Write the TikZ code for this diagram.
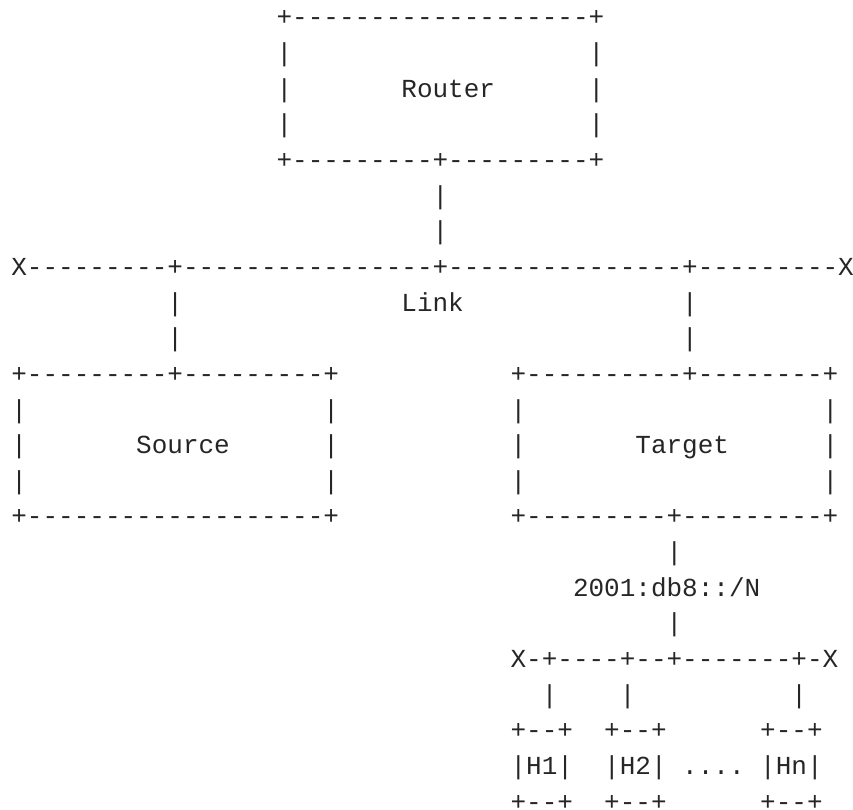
\documentclass[tikz,border=0pt]{standalone}
\usepackage{fontspec}
\setmonofont{Liberation Mono}

\begin{document}
\begin{tikzpicture}[x=15.6pt,y=-35.64pt,
    ascii/.style={font=\ttfamily\fontsize{26}{30}\selectfont,anchor=base west,inner sep=0pt,text=black!85}]
\useasboundingbox (-11.2pt,26pt) rectangle (841.8pt,-784pt);

% router box
\node[ascii] (router top) at (17,0) {+-------------------+};
\foreach \r in {1,2,3} {
    \node[ascii] (router l\r) at (17,\r) {|};
    \node[ascii] (router r\r) at (37,\r) {|};
}
\node[ascii] (router) at (25,2) {Router};
\node[ascii] (router bot) at (17,4) {+---------+---------+};
\node[ascii] (up1) at (27,5) {|};
\node[ascii] (up2) at (27,6) {|};

% link
\node[ascii] (link line) at (0,7) {X---------+----------------+---------------+---------X};
\node[ascii] (link) at (25,8) {Link};
\foreach \r in {8,9} {
    \node[ascii] (src up\r) at (10,\r) {|};
    \node[ascii] (tgt up\r) at (43,\r) {|};
}

% source and target boxes
\node[ascii] (source top) at (0,10) {+---------+---------+};
\node[ascii] (target top) at (32,10) {+----------+--------+};
\foreach \r in {11,12,13} {
    \node[ascii] (source l\r) at (0,\r) {|};
    \node[ascii] (source r\r) at (20,\r) {|};
    \node[ascii] (target l\r) at (32,\r) {|};
    \node[ascii] (target r\r) at (52,\r) {|};
}
\node[ascii] (source) at (8,12) {Source};
\node[ascii] (target) at (40,12) {Target};
\node[ascii] (source bot) at (0,14) {+-------------------+};
\node[ascii] (target bot) at (32,14) {+---------+---------+};

% prefix and hosts
\node[ascii] (down1) at (42,15) {|};
\node[ascii] (prefix) at (36,16) {2001:db8::/N};
\node[ascii] (down2) at (42,17) {|};
\node[ascii] (host line) at (32,18) {X-+----+--+-------+-X};
\node[ascii] (h1 up) at (34,19) {|};
\node[ascii] (h2 up) at (39,19) {|};
\node[ascii] (hn up) at (50,19) {|};
\foreach \c/\h in {32/1,38/2,48/n} {
    \node[ascii] (h\h top) at (\c,20) {+--+};
    \node[ascii] (h\h) at (\c,21) {|H\h|};
    \node[ascii] (h\h bot) at (\c,22) {+--+};
}
\node[ascii] (dots) at (43,21) {....};
\end{tikzpicture}
\end{document}
